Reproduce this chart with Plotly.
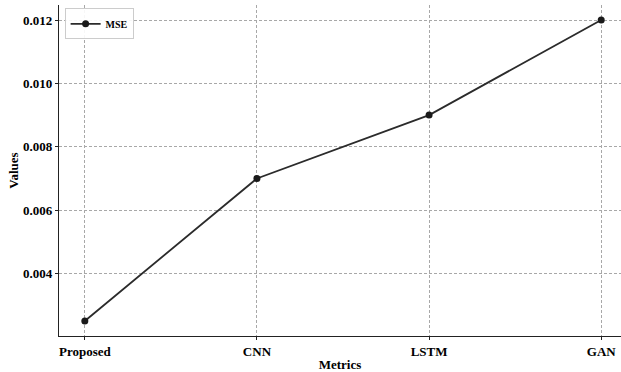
import plotly.graph_objects as go

# Error of each model
models = ["Proposed", "CNN", "LSTM", "GAN"]
mse_values = [0.0025, 0.007, 0.009, 0.012]
y_ticks = [0.004, 0.006, 0.008, 0.010, 0.012]

font_family = "Liberation Serif"

fig = go.Figure()
fig.add_trace(go.Scatter(
    x=models, y=mse_values, mode="lines+markers", name="MSE",
    line=dict(color="#2b2b2b", width=1.8),
    marker=dict(color="#1a1a1a", size=7),
))

axis_common = dict(
    showgrid=True, gridcolor="#a8a8a8", griddash="3px,2px", gridwidth=0.8,
    showline=True, linecolor="#222222", linewidth=1.3,
    ticks="outside", ticklen=3, tickwidth=1.3, tickcolor="#222222",
    tickfont=dict(family=font_family, size=13, color="black", weight="bold"),
    zeroline=False,
)

fig.update_layout(
    width=621, height=372,
    margin=dict(l=59, r=0, t=5, b=33),
    paper_bgcolor="white", plot_bgcolor="white",
    font=dict(family=font_family, color="black"),
    showlegend=True,
    legend=dict(
        x=0.01, y=0.99, xanchor="left", yanchor="top",
        bgcolor="rgba(255,255,255,0.9)", bordercolor="#cccccc", borderwidth=1,
        font=dict(family=font_family, size=10, color="black", weight="bold"),
        itemwidth=30, tracegroupgap=0,
    ),
    xaxis=dict(
        **axis_common,
        type="category",
        range=[-0.15, 3.115],
        title=dict(text="Metrics", standoff=4,
                   font=dict(family=font_family, size=13, color="black", weight="bold")),
    ),
    yaxis=dict(
        **axis_common,
        range=[0.002025, 0.012475],
        tickvals=y_ticks, tickformat=".3f",
        title=dict(text="Values", standoff=1,
                   font=dict(family=font_family, size=13, color="black", weight="bold")),
    ),
)

fig.write_html("out.html")
